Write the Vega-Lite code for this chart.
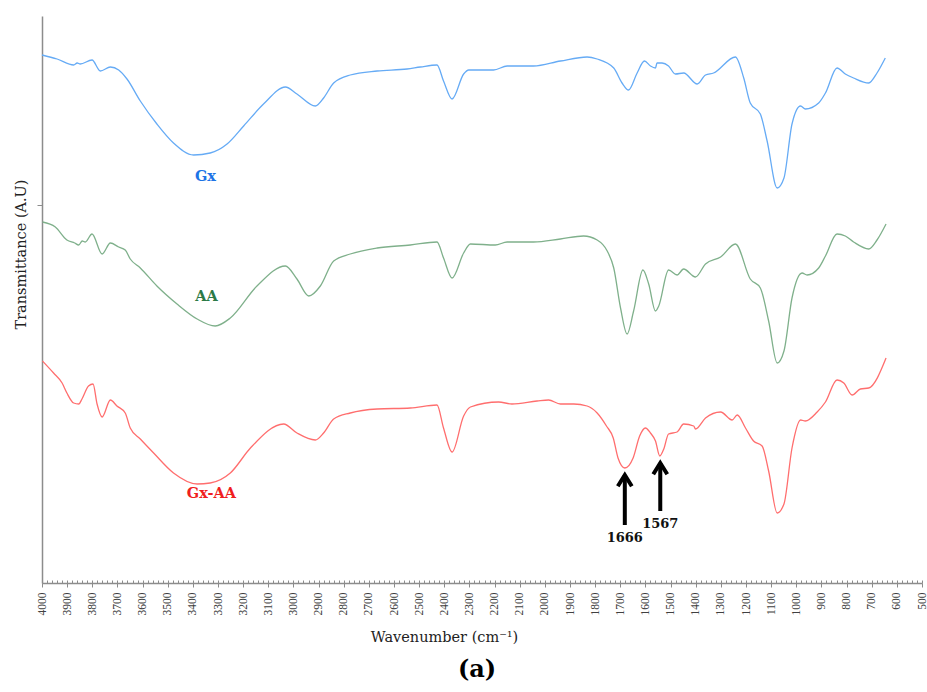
{
  "$schema": "https://vega.github.io/schema/vega-lite/v6.json",
  "width": 880,
  "height": 567,
  "autosize": {"type": "none"},
  "padding": {"left": 42, "top": 16, "right": 5, "bottom": 109},
  "config": {"view": {"stroke": null}, "font": "Liberation Serif"},
  "title": {"text": "(a)", "orient": "bottom", "anchor": "middle", "offset": 14, "dx": -5, "fontSize": 24, "fontWeight": "bold", "color": "#000", "font": "DejaVu Serif"},
  "datasets": {
    "spectra": [
      {"s":"Gx","wn":4000,"t":528},{"s":"Gx","wn":3940,"t":524},{"s":"Gx","wn":3874,"t":518},{"s":"Gx","wn":3860,"t":520},{"s":"Gx","wn":3848,"t":519},{"s":"Gx","wn":3801,"t":523},{"s":"Gx","wn":3768,"t":512},{"s":"Gx","wn":3728,"t":516},{"s":"Gx","wn":3695,"t":513},{"s":"Gx","wn":3662,"t":504},{"s":"Gx","wn":3609,"t":482},{"s":"Gx","wn":3543,"t":459},{"s":"Gx","wn":3477,"t":440},{"s":"Gx","wn":3397,"t":428},{"s":"Gx","wn":3331,"t":430},{"s":"Gx","wn":3264,"t":439},{"s":"Gx","wn":3198,"t":457},{"s":"Gx","wn":3119,"t":479},{"s":"Gx","wn":3032,"t":496},{"s":"Gx","wn":2986,"t":489},{"s":"Gx","wn":2913,"t":477},{"s":"Gx","wn":2880,"t":485},{"s":"Gx","wn":2840,"t":500},{"s":"Gx","wn":2774,"t":508},{"s":"Gx","wn":2667,"t":512},{"s":"Gx","wn":2548,"t":514},{"s":"Gx","wn":2495,"t":516},{"s":"Gx","wn":2429,"t":518},{"s":"Gx","wn":2403,"t":502},{"s":"Gx","wn":2369,"t":484},{"s":"Gx","wn":2323,"t":509},{"s":"Gx","wn":2303,"t":513},{"s":"Gx","wn":2204,"t":513},{"s":"Gx","wn":2150,"t":517},{"s":"Gx","wn":2045,"t":517},{"s":"Gx","wn":1938,"t":522},{"s":"Gx","wn":1832,"t":526},{"s":"Gx","wn":1792,"t":524},{"s":"Gx","wn":1726,"t":515},{"s":"Gx","wn":1693,"t":500},{"s":"Gx","wn":1667,"t":493},{"s":"Gx","wn":1633,"t":510},{"s":"Gx","wn":1604,"t":522},{"s":"Gx","wn":1580,"t":517},{"s":"Gx","wn":1560,"t":515},{"s":"Gx","wn":1554,"t":520},{"s":"Gx","wn":1534,"t":520},{"s":"Gx","wn":1508,"t":517},{"s":"Gx","wn":1481,"t":509},{"s":"Gx","wn":1448,"t":510},{"s":"Gx","wn":1394,"t":499},{"s":"Gx","wn":1361,"t":508},{"s":"Gx","wn":1329,"t":510},{"s":"Gx","wn":1242,"t":526},{"s":"Gx","wn":1209,"t":505},{"s":"Gx","wn":1183,"t":480},{"s":"Gx","wn":1143,"t":469},{"s":"Gx","wn":1116,"t":442},{"s":"Gx","wn":1076,"t":395},{"s":"Gx","wn":1049,"t":405},{"s":"Gx","wn":1017,"t":459},{"s":"Gx","wn":983,"t":477},{"s":"Gx","wn":964,"t":474},{"s":"Gx","wn":911,"t":480},{"s":"Gx","wn":884,"t":490},{"s":"Gx","wn":838,"t":515},{"s":"Gx","wn":805,"t":509},{"s":"Gx","wn":772,"t":505},{"s":"Gx","wn":712,"t":500},{"s":"Gx","wn":679,"t":510},{"s":"Gx","wn":646,"t":525},
      {"s":"AA","wn":3998,"t":361},{"s":"AA","wn":3947,"t":356},{"s":"AA","wn":3901,"t":343},{"s":"AA","wn":3870,"t":340},{"s":"AA","wn":3854,"t":338},{"s":"AA","wn":3840,"t":342},{"s":"AA","wn":3828,"t":341},{"s":"AA","wn":3801,"t":349},{"s":"AA","wn":3761,"t":329},{"s":"AA","wn":3728,"t":340},{"s":"AA","wn":3695,"t":336},{"s":"AA","wn":3669,"t":333},{"s":"AA","wn":3649,"t":324},{"s":"AA","wn":3609,"t":315},{"s":"AA","wn":3543,"t":297},{"s":"AA","wn":3463,"t":279},{"s":"AA","wn":3383,"t":264},{"s":"AA","wn":3311,"t":257},{"s":"AA","wn":3251,"t":265},{"s":"AA","wn":3145,"t":297},{"s":"AA","wn":3032,"t":317},{"s":"AA","wn":2986,"t":304},{"s":"AA","wn":2939,"t":287},{"s":"AA","wn":2893,"t":297},{"s":"AA","wn":2840,"t":322},{"s":"AA","wn":2774,"t":329},{"s":"AA","wn":2667,"t":335},{"s":"AA","wn":2535,"t":338},{"s":"AA","wn":2429,"t":341},{"s":"AA","wn":2403,"t":325},{"s":"AA","wn":2369,"t":305},{"s":"AA","wn":2323,"t":330},{"s":"AA","wn":2296,"t":339},{"s":"AA","wn":2197,"t":338},{"s":"AA","wn":2150,"t":341},{"s":"AA","wn":2045,"t":341},{"s":"AA","wn":1938,"t":344},{"s":"AA","wn":1846,"t":347},{"s":"AA","wn":1792,"t":343},{"s":"AA","wn":1752,"t":332},{"s":"AA","wn":1726,"t":315},{"s":"AA","wn":1699,"t":275},{"s":"AA","wn":1673,"t":249},{"s":"AA","wn":1647,"t":272},{"s":"AA","wn":1610,"t":313},{"s":"AA","wn":1587,"t":299},{"s":"AA","wn":1560,"t":272},{"s":"AA","wn":1547,"t":277},{"s":"AA","wn":1508,"t":313},{"s":"AA","wn":1474,"t":308},{"s":"AA","wn":1448,"t":314},{"s":"AA","wn":1401,"t":306},{"s":"AA","wn":1361,"t":319},{"s":"AA","wn":1301,"t":326},{"s":"AA","wn":1242,"t":339},{"s":"AA","wn":1183,"t":304},{"s":"AA","wn":1143,"t":295},{"s":"AA","wn":1110,"t":262},{"s":"AA","wn":1076,"t":220},{"s":"AA","wn":1049,"t":232},{"s":"AA","wn":1017,"t":285},{"s":"AA","wn":977,"t":310},{"s":"AA","wn":957,"t":308},{"s":"AA","wn":911,"t":315},{"s":"AA","wn":884,"t":327},{"s":"AA","wn":838,"t":349},{"s":"AA","wn":805,"t":347},{"s":"AA","wn":772,"t":341},{"s":"AA","wn":712,"t":334},{"s":"AA","wn":679,"t":343},{"s":"AA","wn":643,"t":359},
      {"s":"Gx-AA","wn":3998,"t":222},{"s":"Gx-AA","wn":3954,"t":210},{"s":"Gx-AA","wn":3920,"t":200},{"s":"Gx-AA","wn":3901,"t":190},{"s":"Gx-AA","wn":3874,"t":180},{"s":"Gx-AA","wn":3854,"t":179},{"s":"Gx-AA","wn":3841,"t":184},{"s":"Gx-AA","wn":3815,"t":197},{"s":"Gx-AA","wn":3797,"t":199},{"s":"Gx-AA","wn":3781,"t":179},{"s":"Gx-AA","wn":3761,"t":166},{"s":"Gx-AA","wn":3728,"t":183},{"s":"Gx-AA","wn":3702,"t":177},{"s":"Gx-AA","wn":3669,"t":170},{"s":"Gx-AA","wn":3649,"t":155},{"s":"Gx-AA","wn":3609,"t":144},{"s":"Gx-AA","wn":3556,"t":130},{"s":"Gx-AA","wn":3477,"t":110},{"s":"Gx-AA","wn":3383,"t":99},{"s":"Gx-AA","wn":3331,"t":100},{"s":"Gx-AA","wn":3251,"t":110},{"s":"Gx-AA","wn":3171,"t":135},{"s":"Gx-AA","wn":3039,"t":159},{"s":"Gx-AA","wn":2986,"t":150},{"s":"Gx-AA","wn":2913,"t":143},{"s":"Gx-AA","wn":2880,"t":150},{"s":"Gx-AA","wn":2840,"t":164},{"s":"Gx-AA","wn":2774,"t":170},{"s":"Gx-AA","wn":2667,"t":174},{"s":"Gx-AA","wn":2535,"t":175},{"s":"Gx-AA","wn":2429,"t":178},{"s":"Gx-AA","wn":2403,"t":155},{"s":"Gx-AA","wn":2369,"t":131},{"s":"Gx-AA","wn":2323,"t":167},{"s":"Gx-AA","wn":2296,"t":176},{"s":"Gx-AA","wn":2184,"t":181},{"s":"Gx-AA","wn":2131,"t":179},{"s":"Gx-AA","wn":2031,"t":182},{"s":"Gx-AA","wn":1985,"t":183},{"s":"Gx-AA","wn":1938,"t":179},{"s":"Gx-AA","wn":1885,"t":179},{"s":"Gx-AA","wn":1832,"t":177},{"s":"Gx-AA","wn":1792,"t":170},{"s":"Gx-AA","wn":1755,"t":157},{"s":"Gx-AA","wn":1728,"t":145},{"s":"Gx-AA","wn":1709,"t":125},{"s":"Gx-AA","wn":1682,"t":115},{"s":"Gx-AA","wn":1649,"t":125},{"s":"Gx-AA","wn":1623,"t":147},{"s":"Gx-AA","wn":1600,"t":155},{"s":"Gx-AA","wn":1580,"t":150},{"s":"Gx-AA","wn":1560,"t":142},{"s":"Gx-AA","wn":1543,"t":127},{"s":"Gx-AA","wn":1527,"t":134},{"s":"Gx-AA","wn":1508,"t":149},{"s":"Gx-AA","wn":1474,"t":151},{"s":"Gx-AA","wn":1448,"t":159},{"s":"Gx-AA","wn":1408,"t":157},{"s":"Gx-AA","wn":1401,"t":154},{"s":"Gx-AA","wn":1361,"t":165},{"s":"Gx-AA","wn":1301,"t":171},{"s":"Gx-AA","wn":1255,"t":163},{"s":"Gx-AA","wn":1235,"t":168},{"s":"Gx-AA","wn":1202,"t":155},{"s":"Gx-AA","wn":1170,"t":142},{"s":"Gx-AA","wn":1136,"t":137},{"s":"Gx-AA","wn":1110,"t":112},{"s":"Gx-AA","wn":1076,"t":70},{"s":"Gx-AA","wn":1049,"t":79},{"s":"Gx-AA","wn":1017,"t":135},{"s":"Gx-AA","wn":983,"t":163},{"s":"Gx-AA","wn":964,"t":162},{"s":"Gx-AA","wn":917,"t":171},{"s":"Gx-AA","wn":884,"t":181},{"s":"Gx-AA","wn":838,"t":203},{"s":"Gx-AA","wn":811,"t":200},{"s":"Gx-AA","wn":778,"t":188},{"s":"Gx-AA","wn":745,"t":194},{"s":"Gx-AA","wn":712,"t":195},{"s":"Gx-AA","wn":643,"t":225}
    ],
    "labels": [
      {"s":"Gx","wn":3350,"t":406,"text":"Gx"},
      {"s":"AA","wn":3346,"t":286,"text":"AA"},
      {"s":"Gx-AA","wn":3326,"t":89,"text":"Gx-AA"}
    ],
    "arrows": [
      {"wn":1682,"t":108,"t2":58,"lt":45,"label":"1666"},
      {"wn":1541,"t":120,"t2":72,"lt":59,"label":"1567"}
    ]
  },
  "layer": [
    {
      "data": {"name": "spectra"},
      "mark": {"type": "line", "strokeWidth": 1.3, "interpolate": "monotone"},
      "encoding": {
        "x": {"field": "wn", "type": "quantitative",
          "scale": {"domain": [500, 4000], "reverse": true, "nice": false, "zero": false},
          "axis": {"values": [4000,3900,3800,3700,3600,3500,3400,3300,3200,3100,3000,2900,2800,2700,2600,2500,2400,2300,2200,2100,2000,1900,1800,1700,1600,1500,1400,1300,1200,1100,1000,900,800,700,600,500],
            "format": "d", "labelAngle": -90, "labelFont": "Liberation Serif", "labelFontSize": 11.5, "labelColor": "#404040", "labelPadding": 5,
            "tickSize": 4, "tickColor": "#8c8c8c", "tickWidth": 1, "domainColor": "#8c8c8c", "domainWidth": 1.5, "grid": false,
            "title": "Wavenumber (cm⁻¹)", "titleFont": "DejaVu Serif", "titleFontSize": 14.5, "titleFontWeight": "normal", "titleColor": "#222",
            "titleX": 402, "titleY": 54, "titleBaseline": "middle", "titleAlign": "center"}},
        "y": {"field": "t", "type": "quantitative",
          "scale": {"domain": [0, 567], "nice": false, "zero": false},
          "axis": {"values": [378], "labels": false, "tickSize": 5, "tickColor": "#8c8c8c", "domainColor": "#8c8c8c", "domainWidth": 1.5, "grid": false,
            "title": "Transmittance (A.U)", "titleFont": "DejaVu Serif", "titleFontSize": 14.5, "titleFontWeight": "normal", "titleColor": "#222",
            "titleX": -21, "titleY": 238, "titleBaseline": "middle", "titleAlign": "center", "titleAngle": -90}},
        "color": {"field": "s", "type": "nominal", "scale": {"domain": ["Gx","AA","Gx-AA"], "range": ["#66abf5","#7fb08b","#ff6e6e"]}, "legend": null}
      }
    },
    {
      "data": {"name": "labels"},
      "mark": {"type": "text", "fontSize": 14.5, "fontWeight": "bold", "font": "DejaVu Serif", "baseline": "middle", "align": "center"},
      "encoding": {
        "x": {"field": "wn", "type": "quantitative",
          "axis": {"orient": "bottom", "values": [4000,3980,3960,3940,3920,3900,3880,3860,3840,3820,3800,3780,3760,3740,3720,3700,3680,3660,3640,3620,3600,3580,3560,3540,3520,3500,3480,3460,3440,3420,3400,3380,3360,3340,3320,3300,3280,3260,3240,3220,3200,3180,3160,3140,3120,3100,3080,3060,3040,3020,3000,2980,2960,2940,2920,2900,2880,2860,2840,2820,2800,2780,2760,2740,2720,2700,2680,2660,2640,2620,2600,2580,2560,2540,2520,2500,2480,2460,2440,2420,2400,2380,2360,2340,2320,2300,2280,2260,2240,2220,2200,2180,2160,2140,2120,2100,2080,2060,2040,2020,2000,1980,1960,1940,1920,1900,1880,1860,1840,1820,1800,1780,1760,1740,1720,1700,1680,1660,1640,1620,1600,1580,1560,1540,1520,1500,1480,1460,1440,1420,1400,1380,1360,1340,1320,1300,1280,1260,1240,1220,1200,1180,1160,1140,1120,1100,1080,1060,1040,1020,1000,980,960,940,920,900,880,860,840,820,800,780,760,740,720,700,680,660,640,620,600,580,560,540,520,500],
            "labels": false, "domain": false, "grid": false, "tickSize": -3, "tickColor": "#8c8c8c", "tickWidth": 1, "title": null}},
        "y": {"field": "t", "type": "quantitative"},
        "text": {"field": "text"},
        "color": {"field": "s", "type": "nominal", "scale": {"domain": ["Gx","AA","Gx-AA"], "range": ["#1d74e6","#2c7a47","#f01e1e"]}, "legend": null}
      }
    },
    {
      "data": {"name": "arrows"},
      "mark": {"type": "rule", "strokeWidth": 4, "color": "#000", "strokeCap": "butt"},
      "encoding": {
        "x": {"field": "wn", "type": "quantitative", "axis": null},
        "y": {"field": "t", "type": "quantitative"},
        "y2": {"field": "t2"}
      }
    },
    {
      "data": {"name": "arrows"},
      "mark": {"type": "point", "shape": "M-1,1.6L0,0L1,1.6", "size": 196, "filled": false, "stroke": "#000", "strokeWidth": 4, "strokeJoin": "miter", "strokeCap": "butt", "opacity": 1},
      "encoding": {
        "x": {"field": "wn", "type": "quantitative", "axis": null},
        "y": {"field": "t", "type": "quantitative"}
      }
    },
    {
      "data": {"name": "arrows"},
      "mark": {"type": "text", "fontSize": 13, "fontWeight": "bold", "font": "DejaVu Serif", "color": "#111", "baseline": "middle", "align": "center"},
      "encoding": {
        "x": {"field": "wn", "type": "quantitative", "axis": null},
        "y": {"field": "lt", "type": "quantitative"},
        "text": {"field": "label"}
      }
    }
  ],
  "resolve": {"scale": {"color": "independent"}, "axis": {"x": "independent"}}
}
